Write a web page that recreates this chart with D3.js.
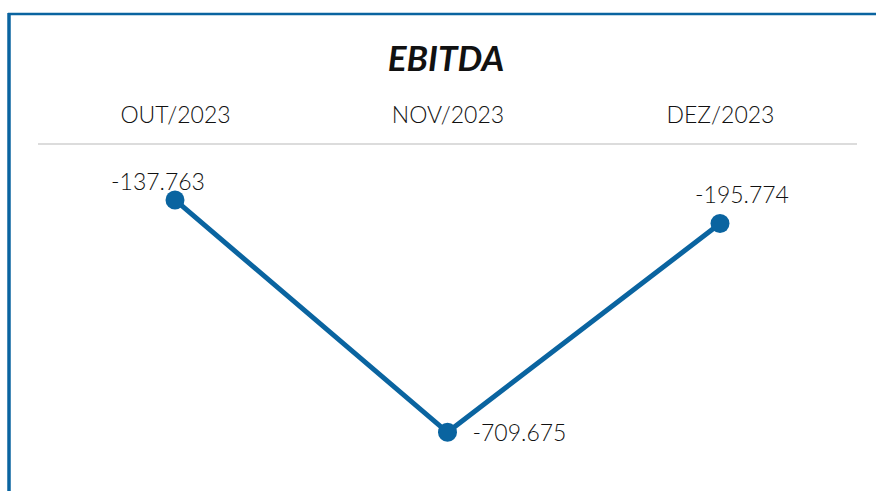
<!DOCTYPE html>
<html>
<head>
<meta charset="utf-8">
<script src="https://cdn.jsdelivr.net/npm/d3@7"></script>
<style>
  body { margin: 0; background: #fff; }
  text { font-family: "Lato", "Open Sans", sans-serif; fill: #111; }
</style>
</head>
<body>
<div id="chart"></div>
<script>
// data
const months = ["OUT/2023", "NOV/2023", "DEZ/2023"];
const ebitda = [-137.763, -709.675, -195.774];

const width = 876;
const height = 491;
const blue = "#0a64a0";

const svg = d3.select("#chart")
  .append("svg")
  .attr("width", width)
  .attr("height", height);

// frame (top + left edges)
svg.append("line")
  .attr("x1", 8).attr("x2", width).attr("y1", 14).attr("y2", 14)
  .attr("stroke", blue).attr("stroke-width", 2.5);
svg.append("line")
  .attr("x1", 9).attr("x2", 9).attr("y1", 13).attr("y2", height)
  .attr("stroke", blue).attr("stroke-width", 3.5);

// title
svg.append("text")
  .attr("x", 446)
  .attr("y", 71)
  .attr("text-anchor", "middle")
  .style("font-size", "35px")
  .style("font-weight", "bold")
  .style("font-style", "italic")
  .text("EBITDA");

const x = d3.scalePoint()
  .domain(months)
  .range([175, 720]);

const y = d3.scaleLinear()
  .domain([0, -800])
  .range([144, 469]);

// month labels on top
svg.append("g")
  .attr("transform", "translate(0,123)")
  .call(d3.axisTop(x).tickSize(0).tickPadding(0))
  .call(g => g.select(".domain").remove())
  .call(g => g.selectAll("text")
    .style("font-size", "23px")
    .style("font-weight", "300")
    .attr("fill", "#111"));

// zero line
svg.append("line")
  .attr("x1", 38).attr("x2", 857)
  .attr("y1", y(0)).attr("y2", y(0))
  .attr("stroke", "#dcdcdc").attr("stroke-width", 2);

const pts = months.map((m, i) => ({ m, v: ebitda[i] }));

svg.append("path")
  .datum(pts)
  .attr("fill", "none")
  .attr("stroke", blue)
  .attr("stroke-width", 5)
  .attr("d", d3.line().x(d => x(d.m)).y(d => y(d.v)));

svg.selectAll("circle")
  .data(pts)
  .join("circle")
  .attr("cx", d => x(d.m))
  .attr("cy", d => y(d.v))
  .attr("r", 9.5)
  .attr("fill", blue);

// value labels (plain hyphen as minus sign)
const fmt = d3.formatLocale({ decimal: ".", thousands: ",", grouping: [3], currency: ["", ""], minus: "-" }).format(".3f");
const labelPos = [
  { dx: -17, dy: -10, anchor: "middle" },
  { dx: 25, dy: 9, anchor: "start" },
  { dx: 22, dy: -21, anchor: "middle" }
];

svg.selectAll("text.val")
  .data(pts)
  .join("text")
  .attr("class", "val")
  .attr("x", (d, i) => x(d.m) + labelPos[i].dx)
  .attr("y", (d, i) => y(d.v) + labelPos[i].dy)
  .attr("text-anchor", (d, i) => labelPos[i].anchor)
  .style("font-size", "23px")
  .style("font-weight", "300")
  .text(d => fmt(d.v));
</script>
</body>
</html>
